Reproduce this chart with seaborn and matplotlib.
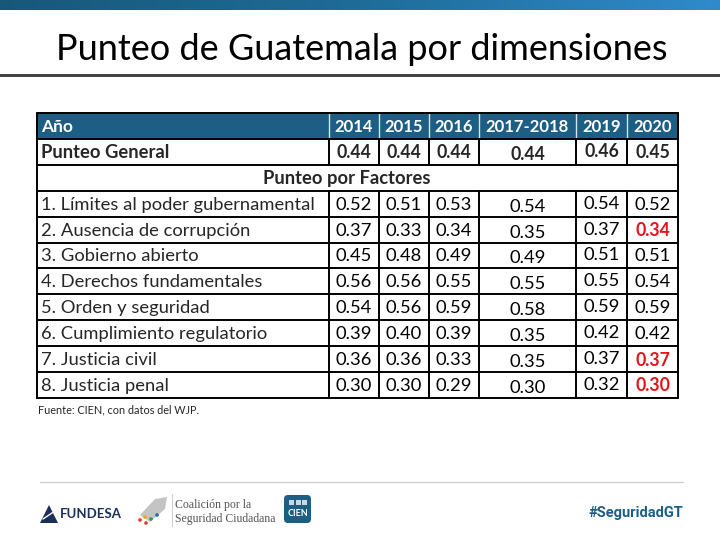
import numpy as np
import pandas as pd
import matplotlib.pyplot as plt
import seaborn as sns
from matplotlib.patches import Rectangle, FancyBboxPatch, Polygon, Circle

sns.set_theme(style="white")
plt.rcParams['font.family'] = ['Lato', 'DejaVu Sans']

# data
years = ["2014", "2015", "2016", "2017-2018", "2019", "2020"]
general = [0.44, 0.44, 0.44, 0.44, 0.46, 0.45]
factors = [
    "1. Límites al poder gubernamental",
    "2. Ausencia de corrupción",
    "3. Gobierno abierto",
    "4. Derechos fundamentales",
    "5. Orden y seguridad",
    "6. Cumplimiento regulatorio",
    "7. Justicia civil",
    "8. Justicia penal",
]
s2014 = [0.52, 0.37, 0.45, 0.56, 0.54, 0.39, 0.36, 0.30]
s2015 = [0.51, 0.33, 0.48, 0.56, 0.56, 0.40, 0.36, 0.30]
s2016 = [0.53, 0.34, 0.49, 0.55, 0.59, 0.39, 0.33, 0.29]
s2017 = [0.54, 0.35, 0.49, 0.55, 0.58, 0.35, 0.35, 0.30]
s2019 = [0.54, 0.37, 0.51, 0.55, 0.59, 0.42, 0.37, 0.32]
s2020 = [0.52, 0.34, 0.51, 0.54, 0.59, 0.42, 0.37, 0.30]
red_2020 = ["2. Ausencia de corrupción", "7. Justicia civil", "8. Justicia penal"]

df = pd.DataFrame({"2014": s2014, "2015": s2015, "2016": s2016,
                   "2017-2018": s2017, "2019": s2019, "2020": s2020},
                  index=factors)

fig = plt.figure(figsize=(7.2, 5.4), dpi=100)
ax = fig.add_axes([0, 0, 1, 1])
ax.set_xlim(0, 720)
ax.set_ylim(540, 0)
ax.axis("off")

# top gradient bar
grad = np.linspace(0, 1, 256).reshape(1, -1)
cmap = sns.blend_palette(["#17587a", "#1f6c98", "#2f8bcb"], as_cmap=True)
ax.imshow(grad, extent=[0, 720, 10, 0], aspect="auto", cmap=cmap, zorder=1)
ax.set_xlim(0, 720)
ax.set_ylim(540, 0)

ax.text(362, 49, "Punteo de Guatemala por dimensiones", fontsize=26,
        ha="center", va="center", color="black", family=["Lato", "DejaVu Sans"])
ax.add_patch(Rectangle((0, 74), 720, 3, color="#444444", lw=0))

# table geometry
col_edges = [37, 329, 379, 429, 479, 576, 627, 678]
row_h = 25.9
top = 113
n_rows = 2 + 1 + len(factors)
row_edges = [top + i * row_h for i in range(n_rows + 1)]
header_col = "#1d5e84"
fs = 13.2
fs_head = 12.0

# header
ax.add_patch(Rectangle((col_edges[0], row_edges[0]), col_edges[-1] - col_edges[0],
                       row_h, color=header_col, lw=0, zorder=2))
for x in col_edges[1:-1]:
    ax.plot([x, x], [row_edges[0], row_edges[1]], color="#d8e4ec", lw=1.0, zorder=3)
ax.text(col_edges[0] + 4, row_edges[0] + row_h / 2 + 1, "Año", color="white",
        fontweight="bold", fontsize=fs_head + 0.5, va="center", ha="left", zorder=4)
for j, y in enumerate(years):
    cx = (col_edges[j + 1] + col_edges[j + 2]) / 2
    ax.text(cx, row_edges[0] + row_h / 2 + 1, y, color="white", fontweight="bold",
            fontsize=fs_head, va="center", ha="center", zorder=4)

offs = [0, 0, 0, 2, -1, 0]

# general row
yc = (row_edges[1] + row_edges[2]) / 2 + 1
ax.text(col_edges[0] + 4, yc, "Punteo General", fontweight="bold", fontsize=fs,
        va="center", ha="left")
for j, v in enumerate(general):
    cx = (col_edges[j + 1] + col_edges[j + 2]) / 2
    ax.text(cx, yc + offs[j], f"{v:.2f}", fontweight="bold", fontsize=fs - 0.5,
            va="center", ha="center")

# section row
yc = (row_edges[2] + row_edges[3]) / 2 + 1
ax.text(347, yc, "Punteo por Factores", fontweight="bold", fontsize=fs,
        va="center", ha="center")

# factor rows
for i, name in enumerate(df.index):
    yc = (row_edges[3 + i] + row_edges[4 + i]) / 2 + 1
    ax.text(col_edges[0] + 4, yc, name, fontsize=fs, va="center", ha="left")
    for j, col in enumerate(df.columns):
        cx = (col_edges[j + 1] + col_edges[j + 2]) / 2
        v = df.loc[name, col]
        if col == "2020" and name in red_2020:
            ax.text(cx, yc + offs[j], f"{v:.2f}", fontsize=fs - 0.5, va="center",
                    ha="center", color="#e4141b", fontweight="bold")
        else:
            ax.text(cx, yc + offs[j], f"{v:.2f}", fontsize=fs, va="center",
                    ha="center", color="black")

# grid lines
lw = 1.4
for k in range(1, n_rows + 1):
    ax.plot([col_edges[0], col_edges[-1]], [row_edges[k]] * 2, color="black", lw=lw, zorder=5)
ax.plot([col_edges[0], col_edges[-1]], [row_edges[0]] * 2, color="black", lw=lw, zorder=5)
for x in [col_edges[0], col_edges[-1]]:
    ax.plot([x, x], [row_edges[0], row_edges[-1]], color="black", lw=lw, zorder=5)
for x in col_edges[1:-1]:
    ax.plot([x, x], [row_edges[1], row_edges[2]], color="black", lw=lw, zorder=5)
    ax.plot([x, x], [row_edges[3], row_edges[-1]], color="black", lw=lw, zorder=5)

ax.text(38, 410, "Fuente: CIEN, con datos del WJP.", fontsize=7.8, va="center", ha="left")

# footer
ax.plot([40, 683], [482, 482], color="#cfcfcf", lw=1)
ax.add_patch(Polygon([[40, 523], [49, 505], [58, 523]], closed=True, color="#1b2f5c", lw=0))
ax.plot([43, 55], [519, 511], color="white", lw=1)
ax.text(60, 514, "FUNDESA", fontsize=9.5, fontweight="bold", color="#1b2f5c",
        va="center", ha="left")
ax.add_patch(Polygon([[140, 515], [155, 499], [167, 497], [165, 509], [150, 522]],
                     closed=True, color="#c4c4c4", lw=0))
for (px, py, c) in [(140, 520, "#e03a2f"), (145, 517, "#f0a020"), (151, 519, "#3a9a3a"),
                    (157, 515, "#2a66b0"), (146, 523, "#e03a2f")]:
    ax.add_patch(Circle((px, py), 1.8, color=c, lw=0))
ax.plot([172, 172], [494, 526], color="#d0d0d0", lw=0.8)
ax.text(175, 505, "Coalición por la", fontsize=8.5, family=["Liberation Serif"],
        color="#555555", va="center", ha="left")
ax.text(175, 519, "Seguridad Ciudadana", fontsize=8.5, family=["Liberation Serif"],
        color="#555555", va="center", ha="left")
ax.add_patch(FancyBboxPatch((284, 495), 27, 28, boxstyle="round,pad=0,rounding_size=4",
                            color="#1d5e84", lw=0))
for k in range(3):
    ax.add_patch(Rectangle((289 + k * 6.5, 500), 5, 5, color="#c8d8e4", lw=0))
ax.text(297.5, 514, "CIEN", fontsize=6.5, fontweight="bold", color="white",
        va="center", ha="center")
ax.text(683, 513, "#SeguridadGT", fontsize=10.5, fontweight="bold", color="#1d5e84",
        va="center", ha="right", family=["Roboto", "DejaVu Sans"])

fig.savefig("out.png", dpi=100)
